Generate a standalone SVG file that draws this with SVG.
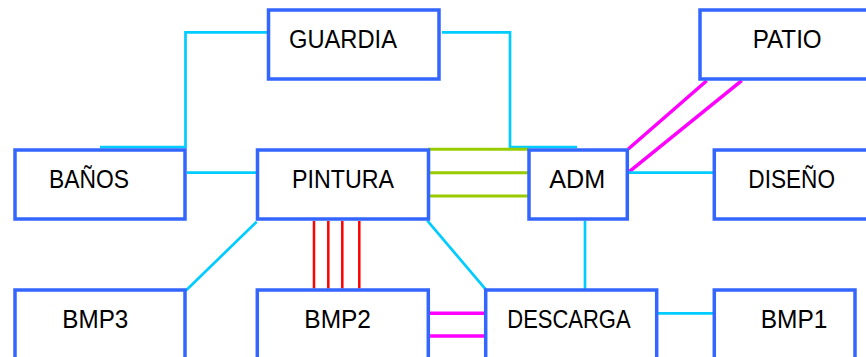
<svg xmlns="http://www.w3.org/2000/svg" width="866" height="357" viewBox="0 0 866 357">
<style>
.box{fill:#ffffff;stroke:#3366ff;stroke-width:3.5}
.lbl{font-family:"Liberation Sans",Arial,sans-serif;font-size:25px;fill:#000000}
.cy{stroke:#00ccff;stroke-width:2.7;fill:none}
.gr{stroke:#99cc00;stroke-width:3;fill:none}
.mg{stroke:#ff00ff;stroke-width:3.5;fill:none}
.rd{stroke:#ff0000;stroke-width:2.5;fill:none}
</style>
<rect width="866" height="357" fill="#ffffff"/>
<g id="connectors">
<polyline class="cy" points="267,32.3 185.5,32.3 185.5,147 100,147"/>
<polyline class="cy" points="442,32.3 510,32.3 510,147 577,147"/>
<line class="cy" x1="187" y1="172.7" x2="257" y2="172.7"/>
<line class="gr" x1="428" y1="149.3" x2="528" y2="149.3"/>
<line class="gr" x1="428" y1="172.7" x2="528" y2="172.7"/>
<line class="gr" x1="428" y1="196" x2="528" y2="196"/>
<line class="mg" x1="706.7" y1="80.7" x2="628.3" y2="149"/>
<line class="mg" x1="741.7" y1="80.7" x2="629.3" y2="171.7"/>
<line class="cy" x1="629" y1="172.7" x2="713" y2="172.7"/>
<line class="cy" x1="256.7" y1="221.7" x2="185.7" y2="290.7"/>
<line class="rd" x1="314" y1="221" x2="314" y2="288.5"/>
<line class="rd" x1="328.3" y1="221" x2="328.3" y2="288.5"/>
<line class="rd" x1="342.3" y1="221" x2="342.3" y2="288.5"/>
<line class="rd" x1="359.3" y1="221" x2="359.3" y2="288.5"/>
<line class="cy" x1="427.3" y1="220.7" x2="485.7" y2="289.3"/>
<line class="cy" x1="585" y1="220.7" x2="585" y2="289.3"/>
<line class="mg" x1="428.3" y1="313.3" x2="485" y2="313.3"/>
<line class="mg" x1="428.3" y1="336" x2="485" y2="336"/>
<line class="cy" x1="657.3" y1="313.3" x2="713" y2="313.3"/>
</g>
<g id="guardia"><rect class="box" x="268.5" y="10" width="170.5" height="69"/><text class="lbl" x="289" y="48.3" textLength="108" lengthAdjust="spacingAndGlyphs">GUARDIA</text></g>
<g id="patio"><rect class="box" x="700" y="10" width="200" height="69"/><text class="lbl" x="752.7" y="48.3" textLength="69" lengthAdjust="spacingAndGlyphs">PATIO</text></g>
<g id="banos"><rect class="box" x="15" y="150" width="170" height="69"/><text class="lbl" x="49" y="187.7" textLength="80" lengthAdjust="spacingAndGlyphs">BAÑOS</text></g>
<g id="pintura"><rect class="box" x="257.5" y="150" width="171" height="69"/><text class="lbl" x="292" y="187.7" textLength="102" lengthAdjust="spacingAndGlyphs">PINTURA</text></g>
<g id="adm"><rect class="box" x="529" y="150" width="98.3" height="69"/><text class="lbl" x="549.3" y="187.7" textLength="56" lengthAdjust="spacingAndGlyphs">ADM</text></g>
<g id="diseno"><rect class="box" x="714.3" y="150" width="200" height="69"/><text class="lbl" x="748.3" y="187.7" textLength="86.7" lengthAdjust="spacingAndGlyphs">DISEÑO</text></g>
<g id="bmp3"><rect class="box" x="15" y="290" width="170" height="69"/><text class="lbl" x="62.3" y="327.7" textLength="66" lengthAdjust="spacingAndGlyphs">BMP3</text></g>
<g id="bmp2"><rect class="box" x="257.3" y="290" width="171" height="69"/><text class="lbl" x="304.3" y="327.7" textLength="66.7" lengthAdjust="spacingAndGlyphs">BMP2</text></g>
<g id="descarga"><rect class="box" x="485.7" y="290" width="171" height="69"/><text class="lbl" x="507.3" y="327.7" textLength="123.3" lengthAdjust="spacingAndGlyphs">DESCARGA</text></g>
<g id="bmp1"><rect class="box" x="714.3" y="290" width="140.7" height="69"/><text class="lbl" x="760.7" y="327.7" textLength="66.7" lengthAdjust="spacingAndGlyphs">BMP1</text></g>
</svg>
